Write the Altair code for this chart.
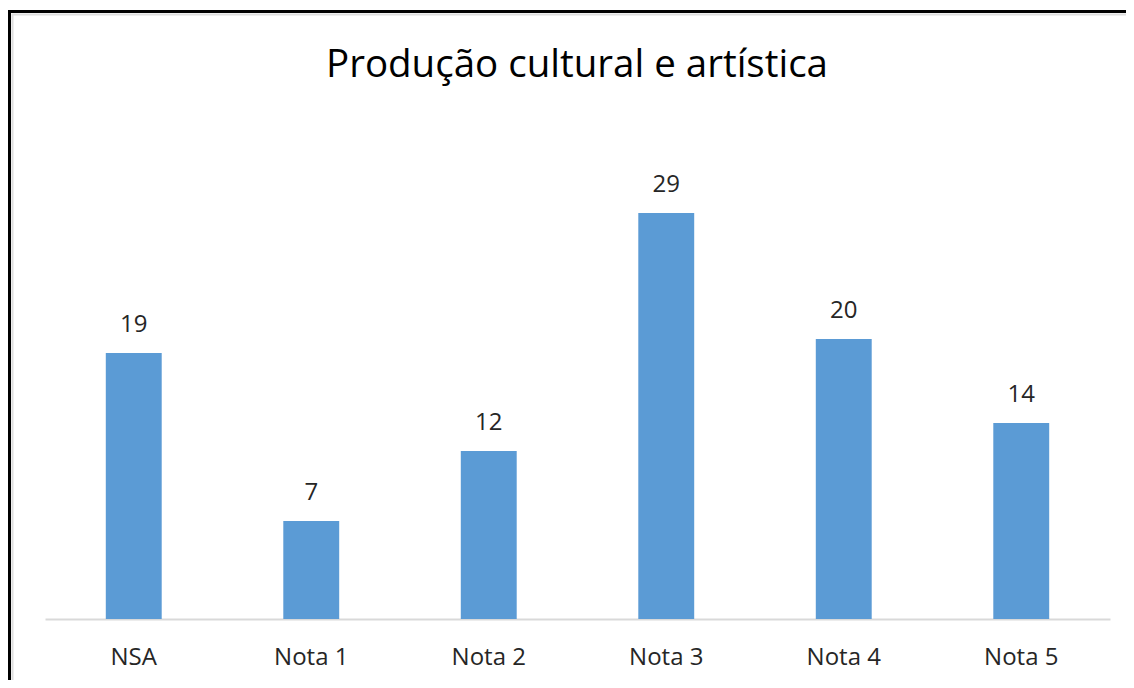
import altair as alt
import pandas as pd

categories = ["NSA", "Nota 1", "Nota 2", "Nota 3", "Nota 4", "Nota 5"]
values = [19, 7, 12, 29, 20, 14]
title_text = "Produção cultural e artística"

df = pd.DataFrame({"cat": categories, "val": values})

FONT = "Open Sans"
W, H = 1065, 448
PAD = {"left": 37, "top": 163, "right": 16, "bottom": 61}

x = alt.X("cat:N", sort=categories, title=None,
          scale=alt.Scale(paddingInner=0.685, paddingOuter=0.3425),
          axis=alt.Axis(labelAngle=0, ticks=False, tickSize=0, domainColor="#d9d9d9",
                        domainWidth=2, labelFont=FONT, labelFontSize=24,
                        labelColor="#262626", labelBaseline="alphabetic",
                        labelPadding=45))
y = alt.Y("val:Q", scale=alt.Scale(domain=[0, 32]), axis=None)

base = alt.Chart(df)
bars = base.mark_bar(color="#5B9BD5").encode(x=x, y=y)
labels = base.mark_text(font=FONT, fontSize=24, color="#262626", baseline="alphabetic",
                        dy=-21).encode(x=x, y=y, text="val:Q")

one = alt.Chart(pd.DataFrame({"a": [0]}))
title = one.mark_text(font=FONT, fontSize=38.5, color="#000000", baseline="alphabetic",
                      align="center").encode(x=alt.value(532), y=alt.value(-94),
                                             text=alt.value(title_text))
shadow = one.mark_rect(fill=None, stroke="#dedede", strokeWidth=2).encode(
    x=alt.value(-32.5), y=alt.value(-156.5), x2=alt.value(1200), y2=alt.value(700))
frame = one.mark_rect(fill=None, stroke="#000000", strokeWidth=3).encode(
    x=alt.value(-35.5), y=alt.value(-159.5), x2=alt.value(1200), y2=alt.value(700))

chart = alt.layer(shadow, frame, bars, labels, title).properties(
    width=W, height=H, padding=PAD,
    autosize=alt.AutoSizeParams(type="none"),
    background="white"
).configure_view(stroke=None)

chart.save("out.html", embed_options={"renderer": "svg", "actions": False})
